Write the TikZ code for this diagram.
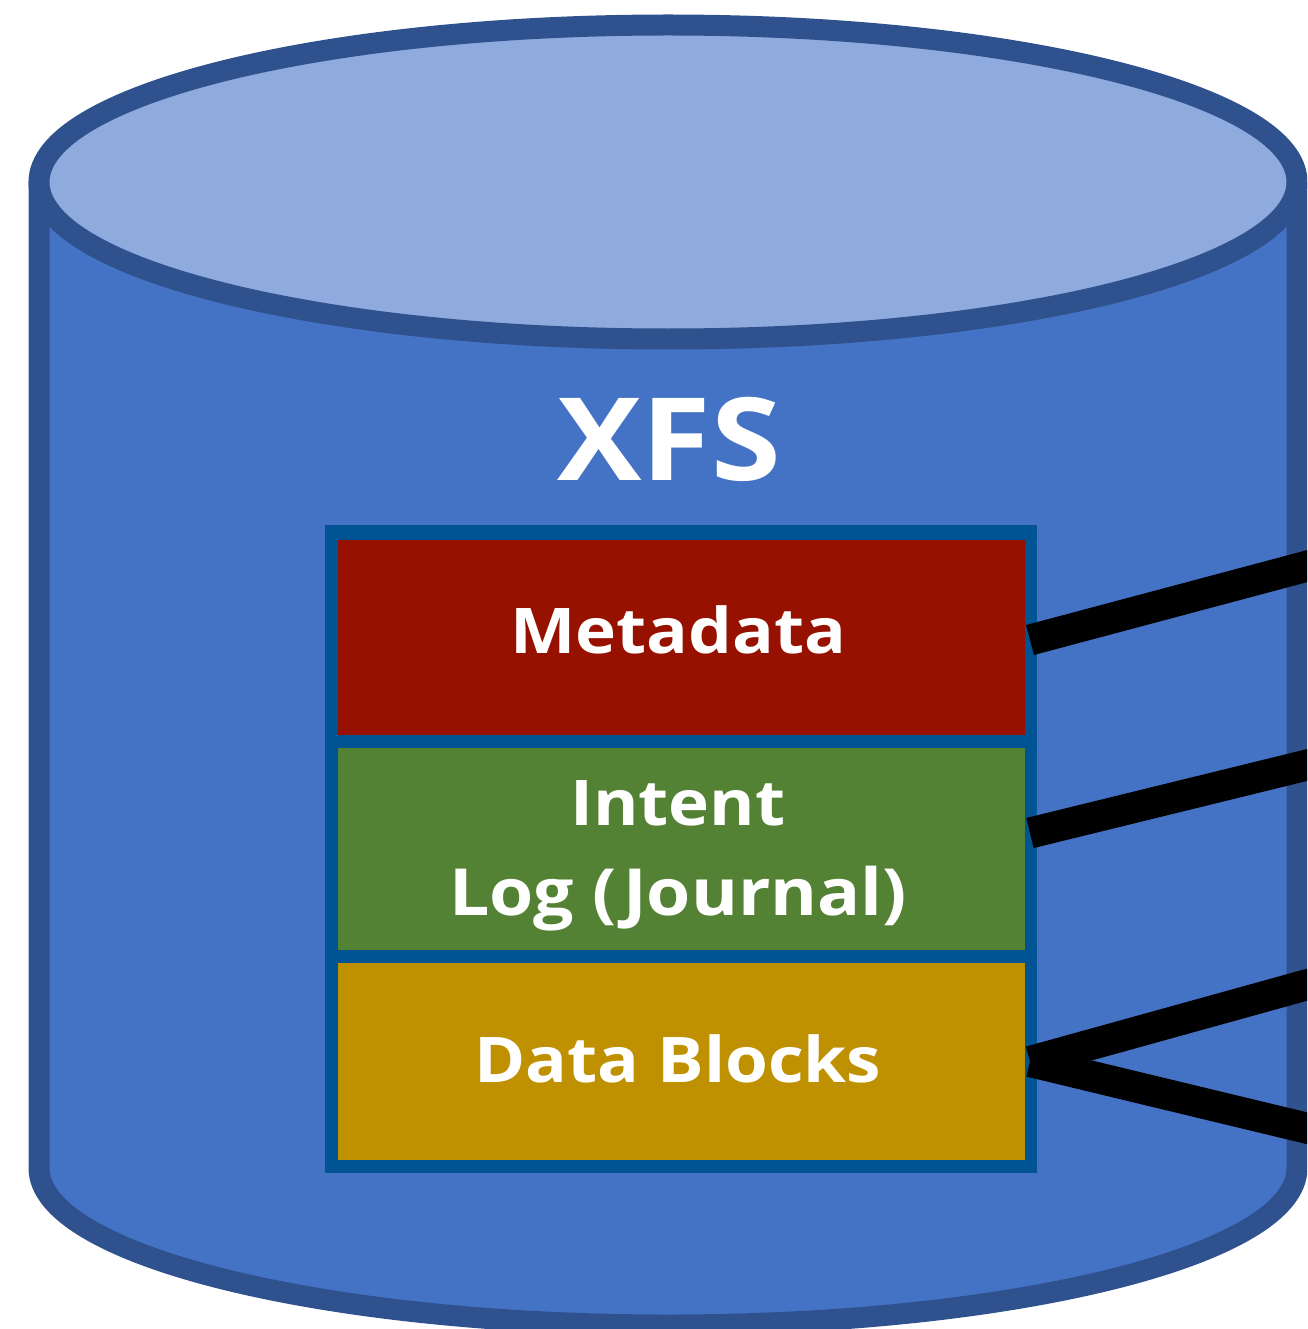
\documentclass[tikz,border=0pt]{standalone}
\usepackage{fontspec}
\newfontfamily\lblfont{Open Sans}[FakeStretch=1.1]
\definecolor{cylside}{HTML}{4472C4}
\definecolor{cyltop}{HTML}{8FAADC}
\definecolor{cylrim}{HTML}{2F528F}
\definecolor{frameblue}{HTML}{005493}
\definecolor{metared}{HTML}{961100}
\definecolor{loggreen}{HTML}{548235}
\definecolor{datagold}{HTML}{BF9000}
\begin{document}
\begin{tikzpicture}[x=1pt,y=1pt,
  rim/.style={draw=cylrim,line width=21pt},
  layer/.style={draw=none,inner sep=0pt,outer sep=0pt,minimum width=687pt},
  lbl/.style={text=white,inner sep=0pt,anchor=base,font=\lblfont\bfseries\fontsize{63}{70}\selectfont},
  link/.style={draw=black,line width=31pt,line cap=butt}]
  \useasboundingbox (0,0) rectangle (1307,-1329);
  \clip (0,0) rectangle (1307,-1329);

  % cylinder body and lid
  \path[fill=cylside,rim] (39,-182) -- (39,-1168)
    arc[start angle=180,end angle=360,x radius=629,y radius=157] -- (1297,-182);
  \path[fill=cyltop,rim] (668,-182) ellipse[x radius=629,y radius=157];

  \node[lbl,font=\lblfont\bfseries\fontsize{115}{120}\selectfont] (xfs) at (669,-480) {XFS};

  % stacked layers
  \node[fill=frameblue,inner sep=0pt,minimum width=712pt,minimum height=648pt] (frame) at (681,-849) {};
  \node[layer,fill=metared,minimum height=195pt] (meta) at (681.5,-637.5) {};
  \node[layer,fill=loggreen,minimum height=202pt] (log) at (681.5,-849) {};
  \node[layer,fill=datagold,minimum height=197pt] (data) at (681.5,-1061.5) {};

  \node[lbl] (metatxt) at (678,-653) {Metadata};
  \node[lbl] (logtxt1) at (678,-825) {Intent};
  \node[lbl,font=\lblfont\bfseries\fontsize{65}{70}\selectfont] (logtxt2) at (678,-915) {Log (Journal)};
  \node[lbl] (datatxt) at (678,-1082) {Data Blocks};

  % outgoing links
  \coordinate (e1) at (1360,-552);
  \coordinate (e2) at (1360,-752);
  \coordinate (e3) at (1360,-970);
  \coordinate (e4) at (1360,-1141);
  \draw[link] ([xshift=5pt,yshift=-2.5pt]meta.east) -- (e1);
  \draw[link] ([xshift=5pt,yshift=16pt]log.east) -- (e2);
  \draw[link] ([xshift=5pt]data.east) -- (e3);
  \draw[link] ([xshift=5pt]data.east) -- (e4);
\end{tikzpicture}
\end{document}
